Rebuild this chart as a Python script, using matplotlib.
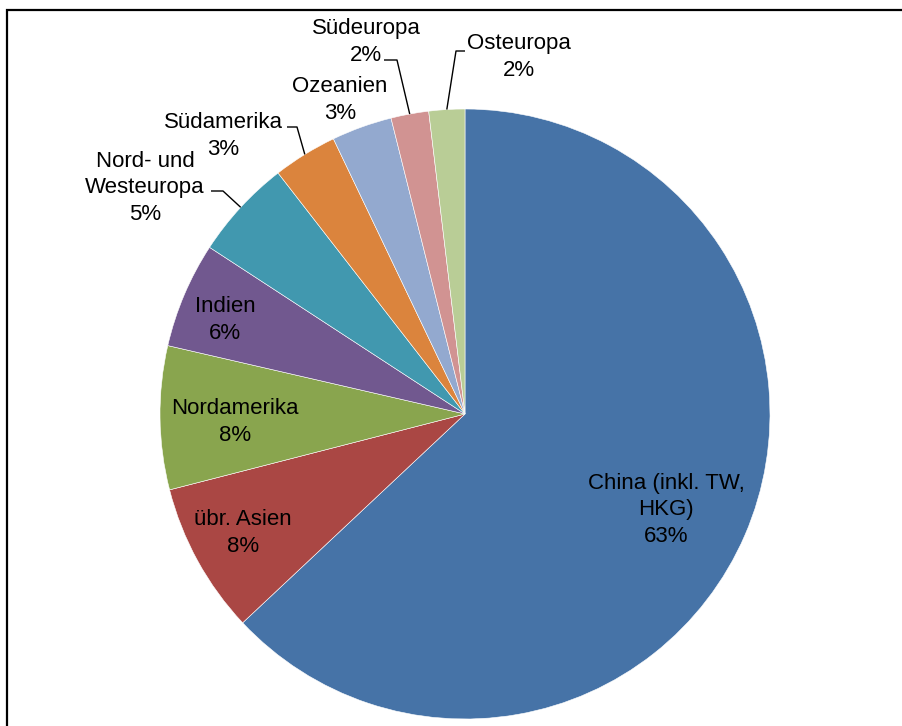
import numpy as np
import matplotlib
matplotlib.use("Agg")
import matplotlib.pyplot as plt
from matplotlib.patches import Rectangle

plt.rcParams["font.family"] = ["Liberation Sans", "DejaVu Sans"]

# share by region, clockwise from 12 o'clock
regions = ["China (inkl. TW,\nHKG)", "übr. Asien", "Nordamerika", "Indien",
           "Nord- und\nWesteuropa", "Südamerika", "Ozeanien", "Südeuropa", "Osteuropa"]
shares = [63.0, 8.0, 7.6, 5.6, 5.3, 3.4, 3.2, 2.0, 1.9]
colors = ["#4673A7", "#AA4744", "#89A54E", "#71588F", "#4198AF",
          "#DB843D", "#93A9CF", "#D19392", "#B9CD96"]

W, H = 903, 726
CX, CY, R = 465, 414, 305   # pie centre and radius in pixels


def px(x, y):
    """pixel position -> pie data coordinates (radius 1)"""
    return (x - CX) / R, (CY - y) / R


fig = plt.figure(figsize=(W / 100, H / 100), dpi=100)
ax = fig.add_axes([0, 0, 1, 1])

wedges, _ = ax.pie(shares, startangle=90, counterclock=False, radius=1,
                   colors=colors,
                   wedgeprops=dict(edgecolor="white", linewidth=0.4))

ax.set_xlim((0 - CX) / R, (W - CX) / R)
ax.set_ylim((CY - H) / R, CY / R)
ax.set_aspect("auto")
ax.axis("off")

fs = 16

# label centres (pixels) and optional leader elbow: (text end, elbow)
layout = {
    0: dict(pos=(666, 510), leader=None),
    1: dict(pos=(243, 533), leader=None),
    2: dict(pos=(235, 422), leader=None),
    3: dict(pos=(225, 320), leader=None),
    4: dict(pos=(145, 188), leader=[(211, 191), (223, 191)]),
    5: dict(pos=(223, 136), leader=[(287, 127), (297, 127)]),
    6: dict(pos=(340, 100), leader=None),
    7: dict(pos=(366, 42), leader=[(384, 60), (397, 60)]),
    8: dict(pos=(519, 57), leader=[(465, 51), (456, 51)]),
}

for i, (name, val) in enumerate(zip(regions, shares)):
    spec = layout[i]
    tx, ty = px(*spec["pos"])
    ax.text(tx, ty, f"{name}\n{val:.0f}%", ha="center", va="center",
            fontsize=fs, color="black", linespacing=1.32)
    if spec["leader"]:
        w = wedges[i]
        mid = np.deg2rad((w.theta1 + w.theta2) / 2)
        pts = [px(*p) for p in spec["leader"]] + [(np.cos(mid), np.sin(mid))]
        xs, ys = zip(*pts)
        ax.plot(xs, ys, color="black", linewidth=1.0, solid_capstyle="butt")

# outer frame
fig.patches.append(Rectangle((7.0 / W, -0.1), 2.0, (H - 10.0) / H + 0.1,
                             transform=fig.transFigure, fill=False,
                             edgecolor="black", linewidth=1.6))

fig.savefig("out.png", dpi=100)
